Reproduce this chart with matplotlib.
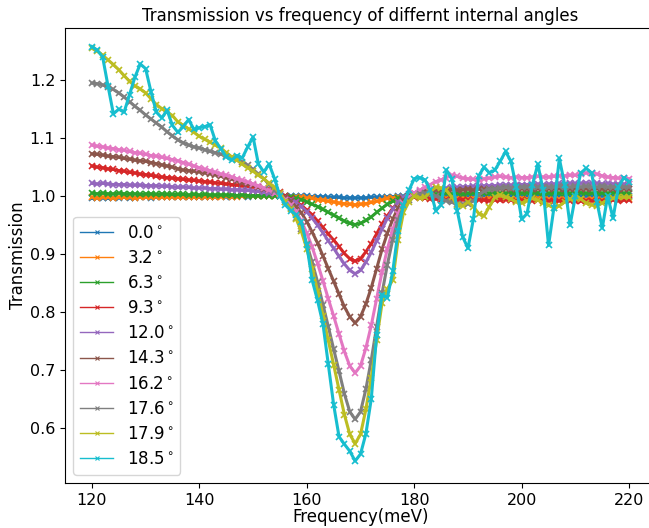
import numpy as np
import matplotlib as mpl
mpl.use('Agg')
import matplotlib.pyplot as plt

# frequency grid of the scans (meV)
freq = np.arange(120, 221)

angles = [0.0, 3.2, 6.3, 9.3, 12.0, 14.3, 16.2, 17.6, 17.9, 18.5]

T_00 = [0.996, 0.997, 0.997, 0.996, 0.997, 0.997, 0.998, 0.997, 0.997, 0.998,
        0.998, 0.997, 0.998, 0.998, 0.998, 0.999, 0.998, 0.998, 0.999, 0.999,
        0.998, 0.999, 0.999, 0.999, 1.000, 0.999, 0.999, 1.000, 1.000, 0.999,
        1.000, 1.000, 1.000, 1.000, 1.000, 1.000, 1.000, 1.000, 1.000, 1.000,
        1.000, 0.999, 0.999, 0.999, 0.998, 0.998, 0.998, 0.997, 0.997, 0.997,
        0.997, 0.997, 0.998, 0.998, 0.998, 0.999, 0.999, 1.000, 1.000, 1.000,
        1.000, 1.000, 1.000, 1.000, 1.000, 1.000, 1.001, 1.000, 1.000, 1.001,
        1.000, 1.000, 1.000, 1.001, 1.000, 1.000, 1.000, 1.000, 1.001, 1.000,
        1.000, 1.000, 1.000, 1.001, 1.000, 1.000, 1.000, 1.000, 1.000, 1.001,
        1.000, 1.000, 1.000, 1.000, 1.000, 1.000, 1.001, 1.000, 1.000, 1.000,
        1.000]
T_32 = [0.998, 0.997, 0.998, 0.998, 0.997, 0.998, 0.998, 0.998, 0.997, 0.998,
        0.998, 0.998, 0.999, 0.998, 0.998, 0.999, 0.998, 0.999, 0.999, 0.998,
        0.999, 0.999, 0.999, 0.999, 0.999, 1.000, 0.999, 0.999, 1.000, 1.000,
        1.000, 1.000, 1.000, 1.000, 1.000, 1.000, 1.000, 0.999, 0.999, 0.998,
        0.997, 0.996, 0.994, 0.993, 0.991, 0.990, 0.988, 0.987, 0.986, 0.985,
        0.986, 0.987, 0.989, 0.991, 0.993, 0.996, 0.997, 0.998, 0.999, 1.000,
        1.000, 0.999, 0.998, 0.997, 0.997, 0.996, 0.996, 0.997, 0.996, 0.996,
        0.995, 0.996, 0.996, 0.995, 0.996, 0.996, 0.995, 0.996, 0.995, 0.995,
        0.996, 0.995, 0.995, 0.996, 0.995, 0.995, 0.994, 0.995, 0.995, 0.994,
        0.995, 0.995, 0.994, 0.995, 0.995, 0.994, 0.995, 0.995, 0.994, 0.995,
        0.995]
T_63 = [1.005, 1.004, 1.005, 1.004, 1.004, 1.005, 1.004, 1.004, 1.004, 1.003,
        1.004, 1.004, 1.003, 1.004, 1.003, 1.003, 1.003, 1.003, 1.002, 1.003,
        1.002, 1.003, 1.002, 1.002, 1.002, 1.002, 1.002, 1.001, 1.002, 1.001,
        1.001, 1.001, 1.001, 1.001, 1.001, 1.001, 1.000, 0.998, 0.996, 0.994,
        0.990, 0.986, 0.982, 0.977, 0.972, 0.967, 0.962, 0.957, 0.953, 0.951,
        0.953, 0.958, 0.964, 0.972, 0.979, 0.986, 0.991, 0.996, 0.999, 1.000,
        1.001, 1.002, 1.003, 1.003, 1.004, 1.004, 1.005, 1.004, 1.005, 1.004,
        1.005, 1.005, 1.004, 1.005, 1.005, 1.006, 1.005, 1.005, 1.006, 1.005,
        1.005, 1.006, 1.005, 1.006, 1.005, 1.005, 1.006, 1.005, 1.006, 1.005,
        1.005, 1.006, 1.005, 1.005, 1.006, 1.005, 1.005, 1.006, 1.005, 1.005,
        1.005]
T_93 = [1.052, 1.050, 1.049, 1.047, 1.046, 1.044, 1.043, 1.041, 1.040, 1.038,
        1.037, 1.036, 1.034, 1.033, 1.032, 1.031, 1.030, 1.029, 1.028, 1.027,
        1.026, 1.025, 1.024, 1.023, 1.022, 1.021, 1.020, 1.019, 1.018, 1.017,
        1.016, 1.015, 1.013, 1.012, 1.010, 1.007, 1.000, 0.995, 0.990, 0.984,
        0.976, 0.968, 0.957, 0.946, 0.935, 0.924, 0.913, 0.901, 0.892, 0.888,
        0.892, 0.904, 0.918, 0.935, 0.952, 0.966, 0.979, 0.989, 0.995, 0.998,
        0.998, 0.997, 0.996, 0.995, 0.995, 0.994, 0.994, 0.993, 0.993, 0.994,
        0.993, 0.993, 0.994, 0.993, 0.992, 0.993, 0.993, 0.994, 0.993, 0.992,
        0.993, 0.993, 0.992, 0.993, 0.992, 0.992, 0.991, 0.992, 0.991, 0.992,
        0.992, 0.991, 0.992, 0.992, 0.991, 0.992, 0.992, 0.993, 0.992, 0.993,
        0.993]
T_120 = [1.022, 1.021, 1.022, 1.021, 1.020, 1.020, 1.020, 1.019, 1.019, 1.019,
         1.018, 1.018, 1.018, 1.017, 1.017, 1.016, 1.015, 1.016, 1.015, 1.014,
         1.014, 1.014, 1.013, 1.013, 1.012, 1.012, 1.011, 1.011, 1.010, 1.010,
         1.009, 1.008, 1.007, 1.006, 1.005, 1.003, 0.998, 0.994, 0.989, 0.982,
         0.973, 0.962, 0.950, 0.937, 0.923, 0.910, 0.896, 0.883, 0.872, 0.866,
         0.872, 0.886, 0.903, 0.923, 0.943, 0.962, 0.977, 0.990, 0.998, 1.003,
         1.006, 1.008, 1.010, 1.011, 1.012, 1.013, 1.014, 1.015, 1.015, 1.016,
         1.016, 1.017, 1.017, 1.018, 1.018, 1.018, 1.019, 1.019, 1.019, 1.020,
         1.020, 1.020, 1.021, 1.021, 1.020, 1.021, 1.021, 1.022, 1.021, 1.022,
         1.022, 1.022, 1.023, 1.022, 1.022, 1.021, 1.022, 1.021, 1.021, 1.021,
         1.021]
T_143 = [1.073, 1.072, 1.071, 1.069, 1.068, 1.067, 1.065, 1.064, 1.062, 1.061,
         1.060, 1.058, 1.056, 1.054, 1.052, 1.050, 1.047, 1.045, 1.044, 1.043,
         1.042, 1.040, 1.039, 1.037, 1.034, 1.032, 1.029, 1.026, 1.023, 1.021,
         1.019, 1.016, 1.013, 1.010, 1.007, 1.004, 0.998, 0.991, 0.982, 0.971,
         0.956, 0.938, 0.919, 0.897, 0.875, 0.853, 0.831, 0.809, 0.792, 0.781,
         0.792, 0.814, 0.842, 0.875, 0.908, 0.936, 0.960, 0.980, 0.993, 1.000,
         1.004, 1.006, 1.008, 1.009, 1.010, 1.010, 1.011, 1.011, 1.010, 1.011,
         1.012, 1.011, 1.012, 1.012, 1.013, 1.012, 1.013, 1.013, 1.012, 1.013,
         1.013, 1.012, 1.013, 1.013, 1.012, 1.013, 1.012, 1.013, 1.013, 1.012,
         1.013, 1.012, 1.013, 1.012, 1.013, 1.012, 1.013, 1.012, 1.012, 1.013,
         1.012]
T_162 = [1.088, 1.086, 1.085, 1.083, 1.082, 1.080, 1.079, 1.077, 1.075, 1.074,
         1.072, 1.070, 1.069, 1.067, 1.065, 1.063, 1.061, 1.058, 1.055, 1.052,
         1.049, 1.046, 1.044, 1.041, 1.038, 1.036, 1.033, 1.030, 1.027, 1.024,
         1.021, 1.018, 1.014, 1.010, 1.006, 1.003, 0.994, 0.985, 0.973, 0.957,
         0.936, 0.912, 0.884, 0.854, 0.823, 0.793, 0.762, 0.732, 0.707, 0.695,
         0.707, 0.738, 0.777, 0.823, 0.869, 0.909, 0.942, 0.970, 0.988, 0.998,
         1.005, 1.010, 1.015, 1.020, 1.025, 1.028, 1.032, 1.036, 1.034, 1.031,
         1.030, 1.029, 1.028, 1.030, 1.031, 1.033, 1.034, 1.033, 1.032, 1.033,
         1.032, 1.032, 1.033, 1.034, 1.033, 1.033, 1.034, 1.035, 1.035, 1.036,
         1.036, 1.038, 1.040, 1.040, 1.038, 1.035, 1.033, 1.032, 1.031, 1.031,
         1.030]
T_176 = [1.195, 1.194, 1.192, 1.188, 1.184, 1.178, 1.171, 1.163, 1.155, 1.148,
         1.140, 1.133, 1.126, 1.119, 1.111, 1.104, 1.097, 1.092, 1.088, 1.085,
         1.083, 1.080, 1.077, 1.075, 1.072, 1.070, 1.067, 1.064, 1.059, 1.053,
         1.046, 1.038, 1.030, 1.020, 1.010, 1.000, 0.990, 0.979, 0.963, 0.944,
         0.917, 0.886, 0.852, 0.813, 0.775, 0.736, 0.698, 0.659, 0.628, 0.615,
         0.628, 0.667, 0.717, 0.775, 0.832, 0.882, 0.925, 0.959, 0.983, 0.994,
         1.000, 1.003, 1.005, 1.004, 1.000, 0.996, 0.992, 0.989, 0.987, 0.986,
         0.986, 0.992, 1.002, 1.008, 1.012, 1.013, 1.014, 1.015, 1.014, 1.015,
         1.015, 1.016, 1.015, 1.016, 1.016, 1.015, 1.016, 1.017, 1.016, 1.016,
         1.017, 1.016, 1.017, 1.016, 1.016, 1.017, 1.016, 1.016, 1.017, 1.016,
         1.016]
T_179 = [1.255, 1.250, 1.243, 1.235, 1.227, 1.218, 1.208, 1.198, 1.190, 1.185,
         1.178, 1.168, 1.158, 1.151, 1.145, 1.139, 1.128, 1.122, 1.116, 1.110,
         1.103, 1.098, 1.093, 1.088, 1.083, 1.075, 1.068, 1.062, 1.055, 1.049,
         1.043, 1.036, 1.030, 1.022, 1.015, 1.005, 0.990, 0.978, 0.961, 0.939,
         0.909, 0.875, 0.837, 0.794, 0.751, 0.709, 0.666, 0.623, 0.589, 0.573,
         0.589, 0.632, 0.687, 0.752, 0.815, 0.840, 0.855, 0.925, 0.972, 0.990,
         1.000, 0.997, 0.998, 1.008, 1.015, 1.014, 1.010, 0.998, 0.985, 0.983,
         0.990, 0.982, 0.970, 0.966, 0.982, 0.998, 1.002, 0.998, 0.995, 0.990,
         0.988, 0.992, 0.996, 0.993, 0.988, 0.984, 0.980, 0.983, 0.990, 0.995,
         0.997, 0.995, 0.988, 0.985, 0.983, 0.988, 0.993, 0.996, 0.998, 0.998,
         0.998]
T_185 = [1.258, 1.252, 1.240, 1.190, 1.142, 1.150, 1.145, 1.175, 1.205, 1.228,
         1.220, 1.180, 1.145, 1.135, 1.148, 1.122, 1.110, 1.120, 1.132, 1.115,
         1.118, 1.120, 1.123, 1.095, 1.082, 1.068, 1.062, 1.070, 1.066, 1.085,
         1.102, 1.055, 1.042, 1.055, 1.030, 1.000, 0.985, 0.975, 0.968, 0.955,
         0.915, 0.855, 0.820, 0.780, 0.710, 0.640, 0.585, 0.572, 0.560, 0.543,
         0.555, 0.590, 0.650, 0.760, 0.830, 0.825, 0.870, 0.940, 0.985, 1.010,
         1.030, 1.032, 1.028, 1.010, 0.975, 0.985, 1.045, 1.030, 0.975, 0.930,
         0.910, 0.960, 1.035, 1.050, 1.040, 1.045, 1.060, 1.077, 1.060, 1.015,
         0.960, 0.970, 1.020, 1.055, 1.010, 0.915, 0.980, 1.065, 1.020, 0.950,
         1.000, 1.040, 1.048, 1.040, 0.990, 0.945, 1.000, 0.962, 1.015, 1.032,
         1.025]

series = [T_00, T_32, T_63, T_93, T_120, T_143, T_162, T_176, T_179, T_185]

fig = plt.figure(figsize=(6.49, 5.28), dpi=100)
ax = fig.add_axes([0.1002, 0.0852, 0.9106, 0.8617])

for ang, T in zip(angles, series):
    ax.plot(freq, T, '-x', lw=2.2, ms=4, mew=1.2, label='%.1f$^\\circ$' % ang)

ax.set_xlim(115, 225)
ax.set_ylim(0.505, 1.29)
ax.set_xticks([120, 140, 160, 180, 200, 220])
ax.set_yticks([0.6, 0.7, 0.8, 0.9, 1.0, 1.1, 1.2])
ax.tick_params(labelsize=11.5)
ax.set_title('Transmission vs frequency of differnt internal angles', fontsize=12, pad=5)
ax.set_xlabel('Frequency(meV)', fontsize=12, labelpad=0)
ax.set_ylabel('Transmission', fontsize=12, labelpad=2)

leg = ax.legend(loc='lower left', fontsize=12, labelspacing=0.43)
for h in leg.get_lines():
    h.set_linewidth(1.0)
    h.set_markersize(3)
    h.set_markeredgewidth(0.8)

fig.savefig('out.png', dpi=100)
